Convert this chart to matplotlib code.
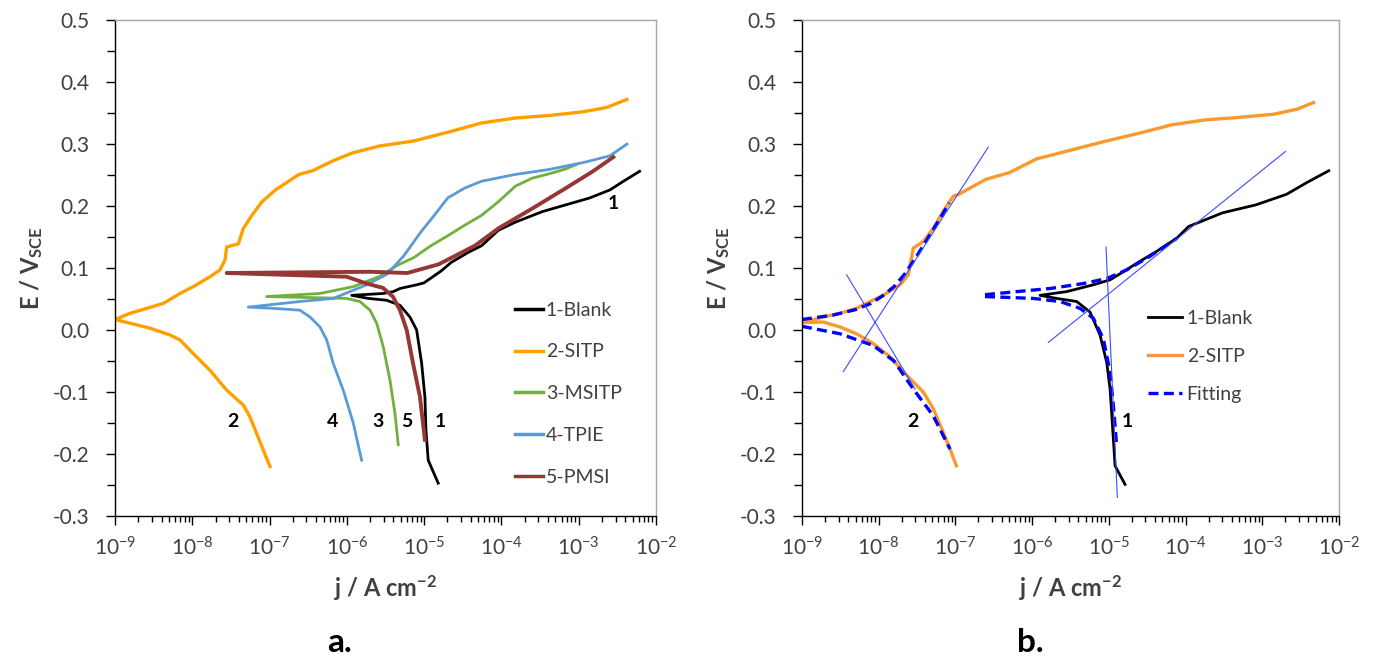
import numpy as np
import matplotlib
matplotlib.use("Agg")
import matplotlib.pyplot as plt
from matplotlib.ticker import LogLocator, FuncFormatter, MultipleLocator, NullFormatter

plt.rcParams['font.family'] = ['Lato', 'DejaVu Sans']
plt.rcParams['mathtext.default'] = 'regular'
plt.rcParams['axes.unicode_minus'] = False

# ---- panel a: polarisation curves (log10 j in A cm-2, E in V vs SCE) ----
blank_logj = [-4.818, -4.947, -4.977, -4.990, -5.032, -5.097, -5.184, -5.313, -5.485, -5.723,
              -5.938, -5.529, -5.400, -5.313, -5.097, -5.003, -4.783, -4.651, -4.433, -4.257,
              -4.039, -3.820, -3.471, -3.165, -2.859, -2.596, -2.421, -2.212]
blank_E = [-0.247, -0.210, -0.161, -0.108, -0.054, 0.000, 0.021, 0.040, 0.048, 0.051,
           0.056, 0.059, 0.062, 0.067, 0.073, 0.076, 0.095, 0.109, 0.125, 0.136,
           0.161, 0.174, 0.191, 0.202, 0.213, 0.226, 0.240, 0.256]

sitp_logj = [-6.995, -7.081, -7.167, -7.254, -7.340, -7.555, -7.771, -7.987, -8.159, -8.288,
             -8.547, -8.806, -9.000, -8.806, -8.590, -8.375, -8.159, -7.987, -7.907, -7.771,
             -7.642, -7.577, -7.556, -7.404, -7.339, -7.229, -7.098, -6.924, -6.620, -6.442,
             -6.180, -5.921, -5.572, -5.132, -4.695, -4.257, -3.820, -3.385, -2.946, -2.640, -2.376]
sitp_E = [-0.220, -0.194, -0.167, -0.140, -0.121, -0.097, -0.065, -0.038, -0.016, -0.008,
          0.003, 0.011, 0.017, 0.027, 0.035, 0.043, 0.059, 0.070, 0.076, 0.086,
          0.097, 0.113, 0.134, 0.139, 0.164, 0.185, 0.207, 0.226, 0.251, 0.257,
          0.273, 0.286, 0.297, 0.305, 0.319, 0.334, 0.342, 0.346, 0.352, 0.359, 0.372]

msitp_logj = [-5.335, -5.378, -5.442, -5.529, -5.614, -5.701, -5.831, -6.003, -7.038, -6.348,
              -5.917, -5.568, -5.352, -5.132, -4.912, -4.695, -4.476, -4.257, -4.039, -3.820,
              -3.601, -3.383, -3.165, -3.033]
msitp_E = [-0.185, -0.134, -0.081, -0.027, 0.011, 0.032, 0.046, 0.051, 0.054, 0.059,
           0.070, 0.087, 0.104, 0.117, 0.136, 0.152, 0.169, 0.185, 0.207, 0.232,
           0.245, 0.252, 0.260, 0.267]

tpie_logj = [-5.809, -5.917, -6.047, -6.176, -6.261, -6.348, -6.477, -6.607, -6.952, -7.276,
             -6.607, -6.176, -5.744, -5.481, -5.261, -5.044, -4.869, -4.695, -4.476, -4.257,
             -3.820, -3.383, -2.946, -2.596, -2.376]
tpie_E = [-0.210, -0.150, -0.097, -0.054, -0.016, 0.005, 0.021, 0.032, 0.035, 0.037,
          0.046, 0.051, 0.073, 0.090, 0.120, 0.158, 0.185, 0.213, 0.229, 0.240,
          0.251, 0.259, 0.270, 0.281, 0.300]

pmsi_logj = [-4.990, -5.054, -5.145, -5.226, -5.313, -5.404, -5.533, -5.744, -6.003, -7.555,
             -6.607, -5.701, -5.219, -5.044, -4.813, -4.594, -4.344, -4.039, -3.601, -3.165,
             -2.816, -2.552]
pmsi_E = [-0.177, -0.108, -0.053, 0.000, 0.032, 0.054, 0.068, 0.075, 0.086, 0.092,
          0.093, 0.094, 0.092, 0.098, 0.106, 0.120, 0.136, 0.164, 0.196, 0.229,
          0.256, 0.279]

labels_a = ['1-Blank', '2-SITP', '3-MSITP', '4-TPIE', '5-PMSI']
colors_a = ['#000000', '#FFA000', '#72AF3E', '#5B9BD5', '#953735']

# ---- panel b: measured curves, fits and Tafel lines ----
blank_b_logj = [-4.789, -4.919, -4.941, -4.984, -5.028, -5.115, -5.245, -5.419, -5.679, -5.897,
                -5.549, -5.202, -4.984, -4.811, -4.593, -4.376, -4.115, -3.961, -3.520, -3.081,
                -2.683, -2.418, -2.133]
blank_b_E = [-0.249, -0.219, -0.176, -0.095, -0.052, -0.008, 0.029, 0.046, 0.051, 0.056,
             0.062, 0.073, 0.081, 0.094, 0.111, 0.127, 0.148, 0.167, 0.189, 0.202,
             0.219, 0.238, 0.257]

sitp_b_logj = [-6.987, -7.070, -7.158, -7.288, -7.418, -7.635, -7.853, -8.070, -8.288, -8.505,
               -8.722, -9.000, -8.722, -8.505, -8.288, -8.113, -7.940, -7.722, -7.614, -7.549,
               -7.418, -7.288, -7.158, -7.027, -6.956, -6.604, -6.295, -5.943, -5.502, -5.063,
               -4.622, -4.181, -3.741, -3.300, -2.859, -2.551, -2.331]
sitp_b_E = [-0.219, -0.192, -0.165, -0.127, -0.100, -0.073, -0.043, -0.022, -0.006, 0.005,
            0.013, 0.012, 0.021, 0.027, 0.035, 0.046, 0.056, 0.073, 0.089, 0.132,
            0.143, 0.164, 0.192, 0.216, 0.219, 0.243, 0.254, 0.276, 0.290, 0.304,
            0.317, 0.331, 0.339, 0.343, 0.348, 0.356, 0.367]

fit_sitp_an_logj = [-9.0, -8.6, -8.3, -8.1, -7.95, -7.8, -7.65, -7.5, -7.35, -7.2, -7.08]
fit_sitp_an_E = [0.017, 0.024, 0.033, 0.043, 0.055, 0.070, 0.092, 0.120, 0.150, 0.180, 0.205]
fit_sitp_ca_logj = [-9.0, -8.505, -8.07, -7.8, -7.55, -7.29, -7.07]
fit_sitp_ca_E = [0.006, -0.006, -0.025, -0.050, -0.095, -0.138, -0.192]

fit_blank_an_logj = [-6.614, -6.2, -5.767, -5.333, -5.028, -4.767, -4.463, -4.115]
fit_blank_an_E = [0.057, 0.062, 0.067, 0.075, 0.083, 0.097, 0.119, 0.148]
fit_blank_ca_logj = [-6.614, -5.985, -5.636, -5.376, -5.202, -5.072, -4.984, -4.941, -4.898]
fit_blank_ca_E = [0.054, 0.051, 0.046, 0.035, 0.019, -0.014, -0.068, -0.122, -0.187]

tafel_lines = [([-8.461, -6.572], [-0.067, 0.295]),
               ([-8.417, -7.527], [0.089, -0.095]),
               ([-5.789, -2.698], [-0.020, 0.288]),
               ([-5.037, -4.889], [0.134, -0.270])]

labels_b = ['1-Blank', '2-SITP', 'Fitting']


def style_axes(ax):
    ax.set_xscale('log')
    ax.set_xlim(1e-9, 1e-2)
    ax.set_ylim(-0.3, 0.5)
    ax.xaxis.set_major_locator(LogLocator(base=10, numticks=20))
    ax.xaxis.set_minor_locator(LogLocator(base=10, subs=np.arange(2, 10), numticks=100))
    ax.xaxis.set_major_formatter(FuncFormatter(lambda v, p: '$10^{%d}$' % round(np.log10(v))))
    ax.xaxis.set_minor_formatter(NullFormatter())
    ax.yaxis.set_major_locator(MultipleLocator(0.1))
    ax.yaxis.set_minor_locator(MultipleLocator(0.05))
    ax.yaxis.set_major_formatter(FuncFormatter(lambda v, p: '%.1f' % (0.0 if abs(v) < 1e-9 else v)))
    ax.tick_params(axis='both', which='both', direction='out', width=1, color='black',
                   top=False, right=False)
    ax.tick_params(axis='y', which='major', length=6.5, pad=12, labelsize=15, labelcolor='#404040')
    ax.tick_params(axis='y', which='minor', length=6)
    ax.tick_params(axis='x', which='major', length=6.5, pad=8, labelsize=15, labelcolor='#404040')
    ax.tick_params(axis='x', which='minor', length=4)
    for side in ['top', 'right']:
        ax.spines[side].set_color('#A6A6A6')
        ax.spines[side].set_linewidth(1)
    for side in ['left', 'bottom']:
        ax.spines[side].set_color('black')
        ax.spines[side].set_linewidth(1)
    ax.set_xlabel('j / A cm$^{-2}$', fontsize=17, fontweight='bold', color='#404040')
    ax.set_ylabel('E / V$_{SCE}$', fontsize=17, fontweight='bold', color='#404040')
    ax.xaxis.set_label_coords(0.5, -0.115)
    ax.yaxis.set_label_coords(-0.13, 0.5)


fig = plt.figure(figsize=(13.81, 6.62), dpi=100)
ax1 = fig.add_axes([0.0833, 0.2205, 0.3917, 0.7492])
ax2 = fig.add_axes([0.5807, 0.2205, 0.3889, 0.7492])

# panel a
series_a = [(blank_logj, blank_E), (sitp_logj, sitp_E), (msitp_logj, msitp_E),
            (tpie_logj, tpie_E), (pmsi_logj, pmsi_E)]
widths_a = [2.0, 2.4, 2.0, 2.0, 2.8]
for (lj, e), lab, col, lw in zip(series_a, labels_a, colors_a, widths_a):
    ax1.plot(10.0 ** np.array(lj), e, color=col, lw=lw, label=lab, solid_joinstyle='round')
style_axes(ax1)
leg1 = ax1.legend(loc='upper left', bbox_to_anchor=(0.739, 0.432), frameon=False, fontsize=14,
                  handlelength=1.45, handletextpad=0.15, labelspacing=1.27,
                  borderpad=0, borderaxespad=0)
for t in leg1.get_texts():
    t.set_color('#404040')
for h in leg1.get_lines():
    h.set_linewidth(2.5)

curve_tags_a = [('1', -2.545, 0.204), ('2', -7.473, -0.147), ('4', -6.180, -0.147),
                ('3', -5.598, -0.147), ('5', -5.223, -0.147), ('1', -4.796, -0.147)]
for txt, lj, e in curve_tags_a:
    ax1.text(10.0 ** lj, e, txt, fontsize=14, fontweight='bold', ha='center', va='center')

# panel b
ax2.plot(10.0 ** np.array(blank_b_logj), blank_b_E, color='black', lw=2.0, label=labels_b[0])
ax2.plot(10.0 ** np.array(sitp_b_logj), sitp_b_E, color='#F9992E', lw=2.4, label=labels_b[1])
fit_segments = [(fit_sitp_an_logj, fit_sitp_an_E), (fit_sitp_ca_logj, fit_sitp_ca_E),
                (fit_blank_an_logj, fit_blank_an_E), (fit_blank_ca_logj, fit_blank_ca_E)]
for i, (lj, e) in enumerate(fit_segments):
    ax2.plot(10.0 ** np.array(lj), e, color='#0000FF', lw=2.4, dashes=[3, 1.6],
             label=labels_b[2] if i == 0 else None)
for lj, e in tafel_lines:
    ax2.plot(10.0 ** np.array(lj), e, color='#3A4BFF', lw=0.8)
style_axes(ax2)
leg2 = ax2.legend(loc='upper left', bbox_to_anchor=(0.644, 0.415), frameon=False, fontsize=14,
                  handlelength=1.75, handletextpad=0.25, labelspacing=1.07,
                  borderpad=0, borderaxespad=0)
for t in leg2.get_texts():
    t.set_color('#404040')
leg2.get_lines()[1].set_color('#F79646')

curve_tags_b = [('2', -7.553, -0.147), ('1', -4.763, -0.147)]
for txt, lj, e in curve_tags_b:
    ax2.text(10.0 ** lj, e, txt, fontsize=14, fontweight='bold', ha='center', va='center')

# panel letters
fig.text(0.246, 0.03, 'a.', fontsize=24, fontweight='bold', ha='center', va='center')
fig.text(0.746, 0.03, 'b.', fontsize=24, fontweight='bold', ha='center', va='center')

fig.savefig('out.png', dpi=100)
